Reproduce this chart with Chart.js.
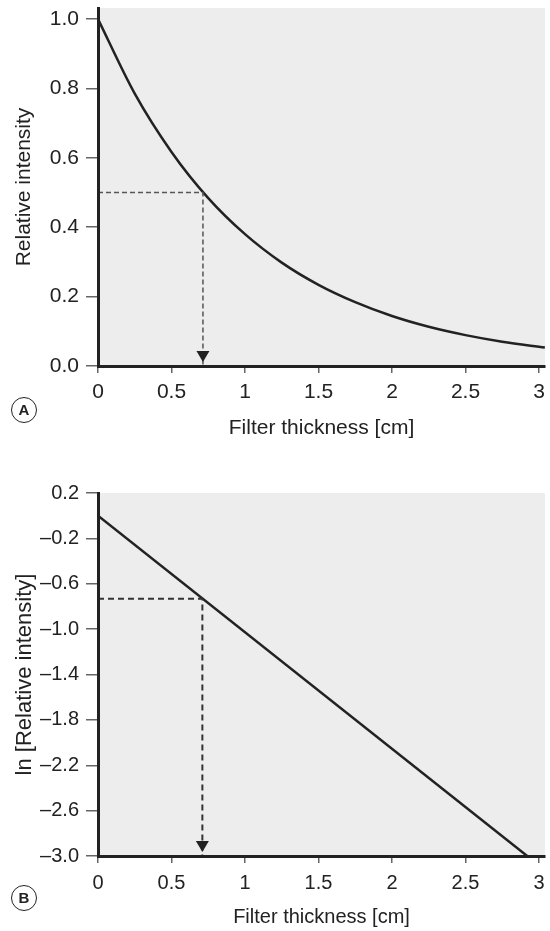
<!DOCTYPE html>
<html>
<head>
<meta charset="utf-8">
<script src="https://cdn.jsdelivr.net/npm/chart.js@4.4.1/dist/chart.umd.min.js"></script>
<style>
  body { margin: 0; background: #fff; }
  #wrap { position: relative; width: 550px; height: 931px; }
  canvas { position: absolute; left: 0; }
  #chartA { top: 0; }
  #chartB { top: 445px; }
  .tag {
    position: absolute; left: 11px; width: 24px; height: 24px;
    border: 1.5px solid #222; border-radius: 50%;
    font: bold 15px 'Liberation Sans', Arial, sans-serif; color: #222;
    text-align: center; line-height: 24px;
  }
</style>
</head>
<body>
<div id="wrap">
  <canvas id="chartA" width="550" height="445"></canvas>
  <canvas id="chartB" width="550" height="486"></canvas>
  <div class="tag" style="top:397px">A</div>
  <div class="tag" style="top:885px">B</div>
</div>
<script>
// panel A: intensity vs thickness
const thicknessA = [0, 0.25, 0.5, 0.75, 1.0, 1.25, 1.5, 1.75, 2.0, 2.25, 2.5, 2.75, 3.04];
const intensityA = [1.0, 0.785, 0.617, 0.484, 0.380, 0.298, 0.234, 0.184, 0.144, 0.113, 0.089, 0.070, 0.053];

// panel B: ln of intensity, a straight line
const thicknessB = [0, 2.92];
const lnIntensityB = [0.0, -3.0];

// half value layer guides (dashed, ending with an arrow on the x axis)
const guideXA = [0, 0.714, 0.714];
const guideYA = [0.5, 0.5, 0];
const guideXB = [0, 0.71, 0.71];
const guideYB = [-0.733, -0.733, -3.0];

const xTicks = [0, 0.5, 1, 1.5, 2, 2.5, 3];
const yTicksA = [0, 0.2, 0.4, 0.6, 0.8, 1.0];
const yTicksB = [0.2, -0.2, -0.6, -1.0, -1.4, -1.8, -2.2, -2.6, -3.0];

const family = "'Liberation Sans', Arial, sans-serif";
const ink = '#222';

const pts = (xs, ys) => xs.map((x, i) => ({ x: x, y: ys[i] }));

// grey plot background
const shade = {
  id: 'shade',
  beforeDraw(chart) {
    const a = chart.chartArea, ctx = chart.ctx;
    ctx.save();
    ctx.fillStyle = '#ededed';
    ctx.fillRect(a.left, a.top, a.right - a.left, a.bottom - a.top);
    ctx.restore();
  }
};

// arrow head at the end of the guide (dataset 0)
const arrowHead = {
  id: 'arrowHead',
  afterDatasetsDraw(chart) {
    const meta = chart.getDatasetMeta(0);
    const p = meta.data[meta.data.length - 1];
    const ctx = chart.ctx;
    ctx.save();
    ctx.fillStyle = ink;
    ctx.beginPath();
    ctx.moveTo(p.x, p.y - 4);
    ctx.lineTo(p.x - 6.5, p.y - 15);
    ctx.lineTo(p.x + 6.5, p.y - 15);
    ctx.closePath();
    ctx.fill();
    ctx.restore();
  }
};

function makePanel(id, o) {
  return new Chart(document.getElementById(id), {
    type: 'line',
    data: {
      datasets: [
        { data: o.guide, borderColor: o.guideColor, borderWidth: o.guideWidth, borderDash: o.dash,
          pointRadius: 0, tension: 0 },
        { data: o.line, borderColor: ink, borderWidth: 2.5, pointRadius: 0,
          cubicInterpolationMode: 'monotone' }
      ]
    },
    options: {
      responsive: false,
      animation: false,
      layout: { padding: { top: o.top, right: 5, left: 0, bottom: 0 } },
      plugins: { legend: { display: false }, tooltip: { enabled: false } },
      scales: {
        x: {
          type: 'linear', min: 0, max: 3.041,
          afterBuildTicks: s => { s.ticks = xTicks.map(v => ({ value: v })); },
          afterFit: s => { s.height = o.xHeight; s.paddingLeft = 0; s.paddingRight = 0; },
          grid: { drawOnChartArea: false, tickLength: 7, color: '#666', lineWidth: 1.5 },
          border: { color: ink, width: 3, z: 1 },
          ticks: { color: ink, font: { family: family, size: o.size }, padding: o.xPad,
                   maxRotation: 0, autoSkip: false, callback: v => String(v) },
          title: { display: true, text: 'Filter thickness [cm]', color: ink,
                   font: { family: family, size: o.size }, padding: { top: 0, bottom: o.xTitlePad } }
        },
        y: {
          type: 'linear', min: o.yMin, max: o.yMax,
          afterBuildTicks: s => { s.ticks = o.yTicks.map(v => ({ value: v })); },
          afterFit: s => { s.width = 98; s.paddingTop = 0; s.paddingBottom = 0; },
          grid: { drawOnChartArea: false, tickLength: 12, color: '#666', lineWidth: 1.5 },
          border: { color: ink, width: 3, z: 1 },
          ticks: { color: ink, font: { family: family, size: o.size }, padding: 7, autoSkip: false,
                   callback: v => (v < 0 ? '\u2013' + (-v).toFixed(1) : v.toFixed(1)) },
          title: { display: true, text: o.yTitle, color: ink,
                   font: { family: family, size: o.ySize }, padding: { top: 12, bottom: 0 } }
        }
      }
    },
    plugins: [shade, arrowHead]
  });
}

makePanel('chartA', {
  line: pts(thicknessA, intensityA),
  guide: pts(guideXA, guideYA),
  guideColor: '#555', guideWidth: 1.5, dash: [5, 3],
  top: 8, xHeight: 79, xPad: 7, xTitlePad: 4, size: 21, ySize: 21,
  yMin: 0, yMax: 1.032, yTicks: yTicksA, yTitle: 'Relative intensity'
});

makePanel('chartB', {
  line: pts(thicknessB, lnIntensityB),
  guide: pts(guideXB, guideYB),
  guideColor: '#333', guideWidth: 2, dash: [6, 4],
  top: 48, xHeight: 75, xPad: 8, xTitlePad: 2, size: 20, ySize: 22,
  yMin: -3.0, yMax: 0.2, yTicks: yTicksB, yTitle: 'ln [Relative intensity]'
});
</script>
</body>
</html>
